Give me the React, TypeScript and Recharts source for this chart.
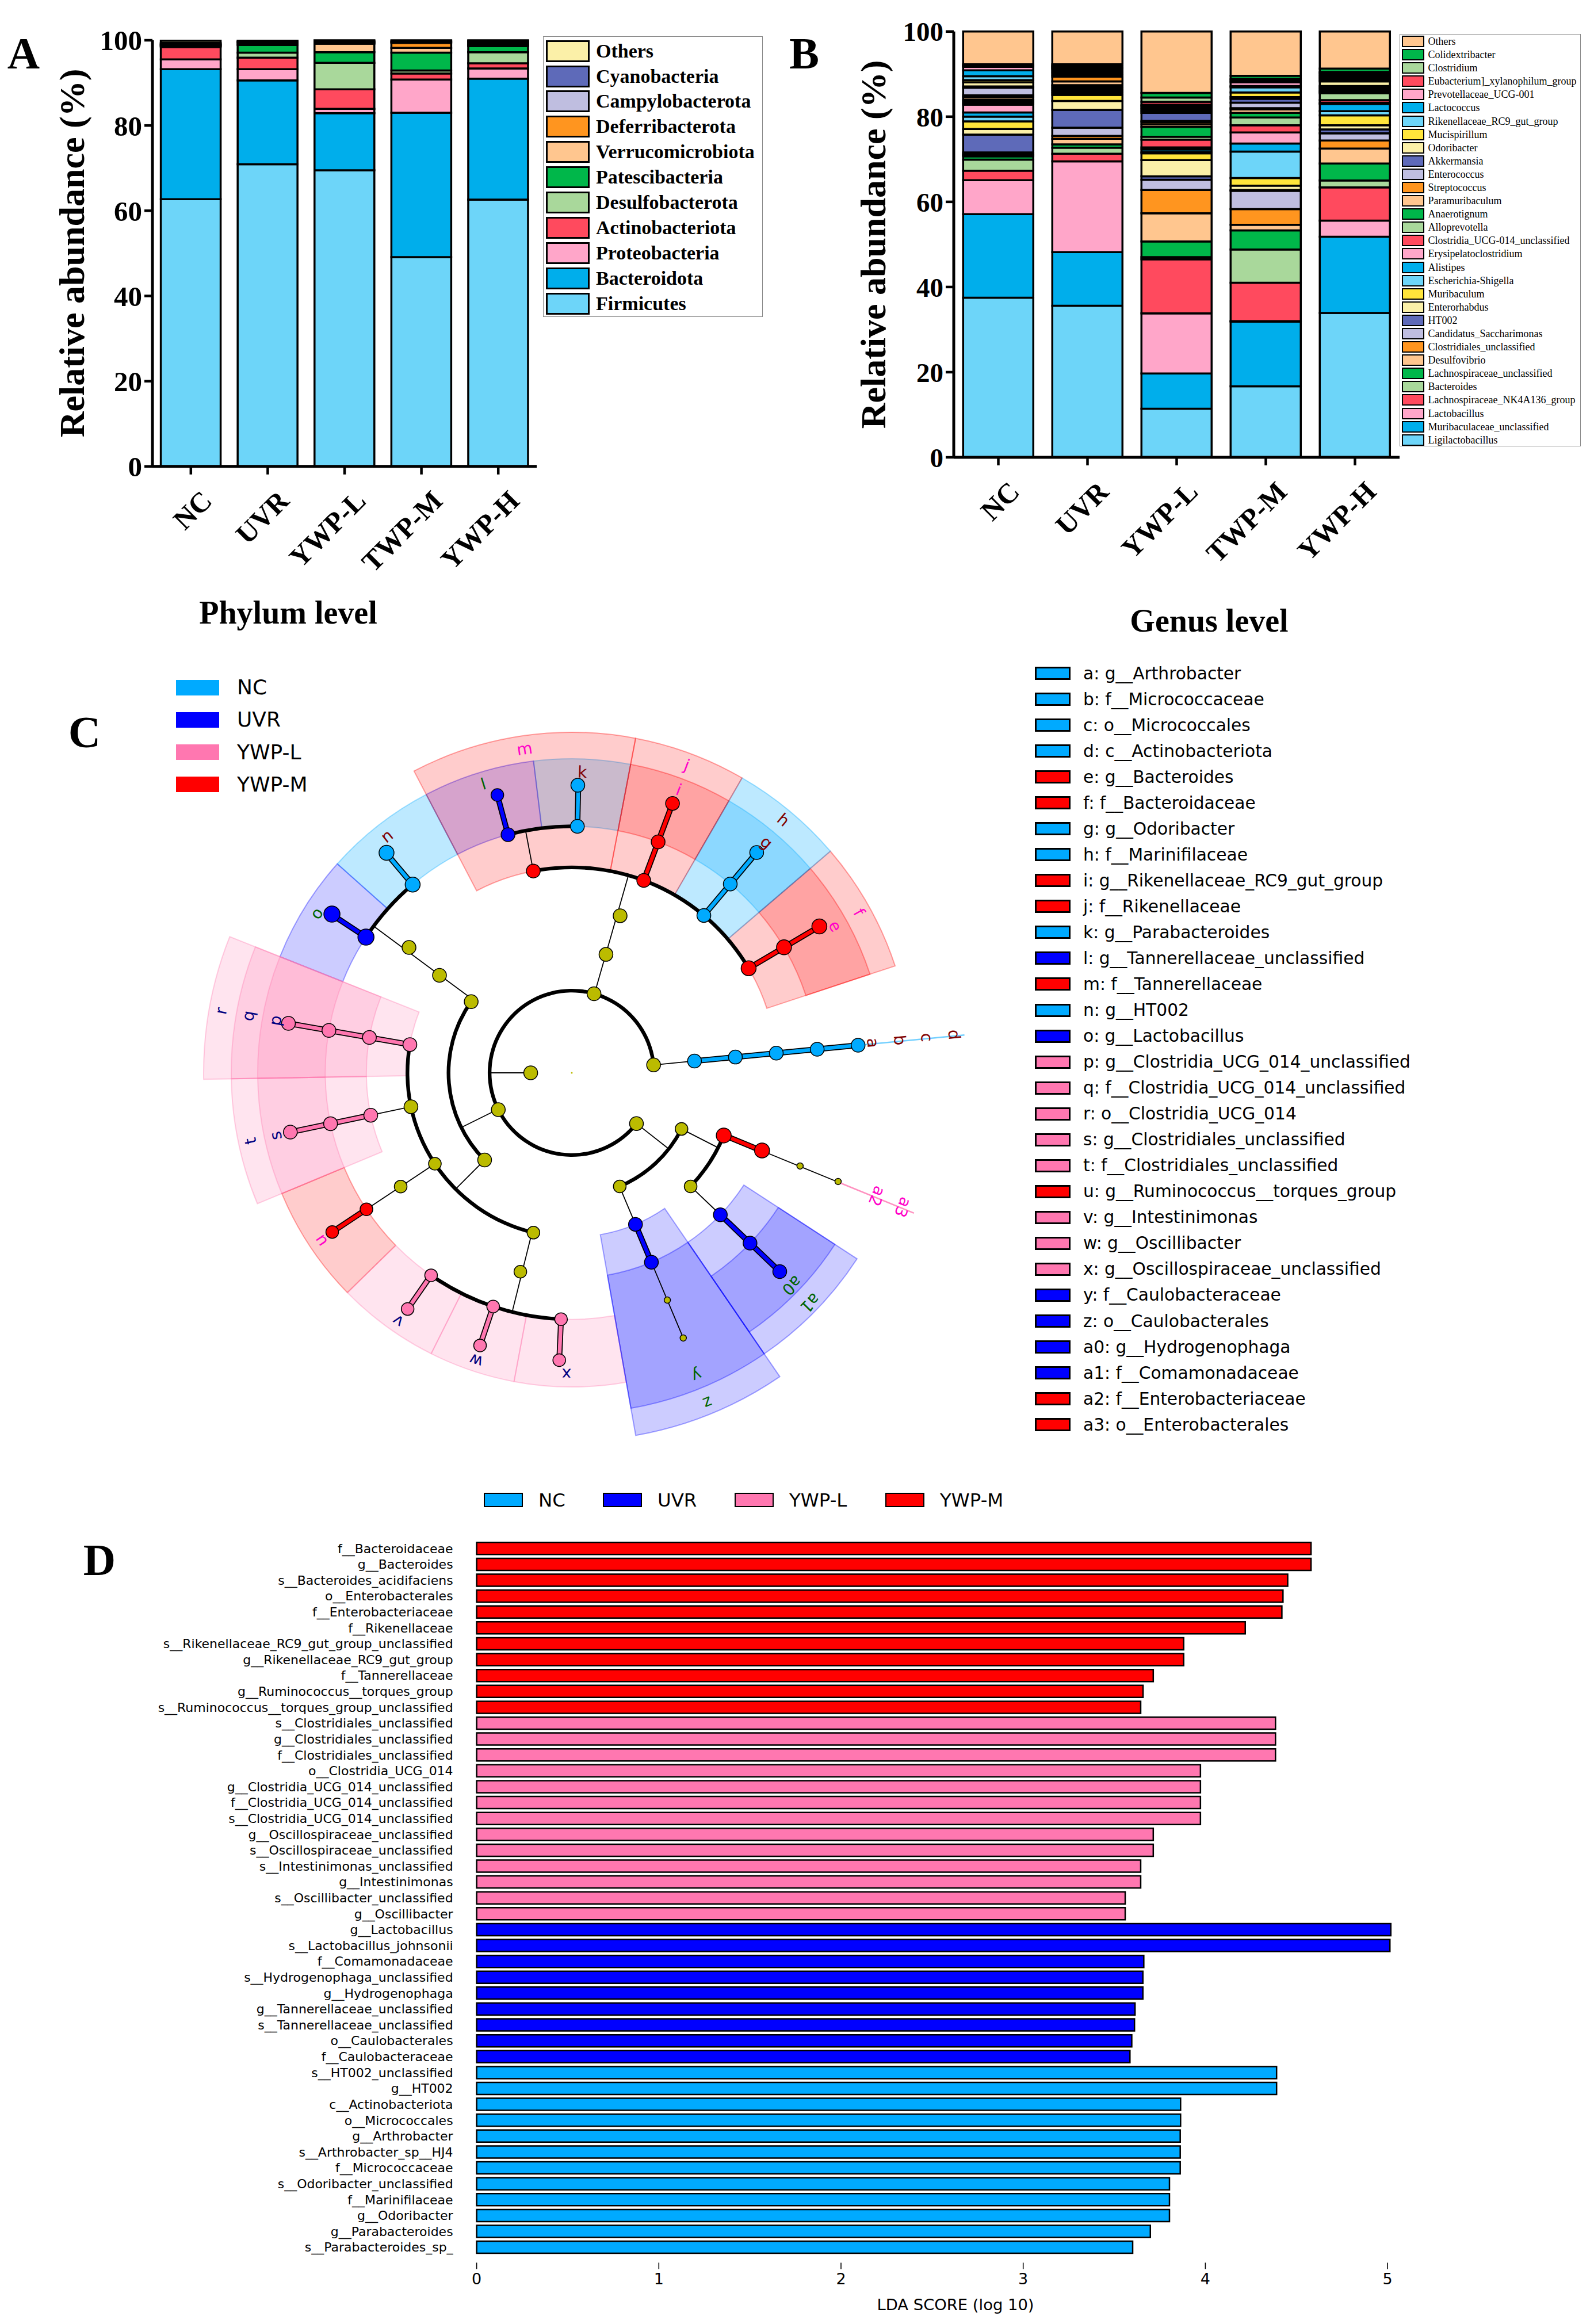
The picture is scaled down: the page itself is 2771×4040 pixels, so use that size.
import React from "react";
import { BarChart, Bar, XAxis, YAxis, PieChart, Pie, ScatterChart, Scatter } from "recharts";

const SERIF = "'Liberation Serif', serif";
const SANS = "'DejaVu Sans', sans-serif";

// panels A and B
const groups = ["NC", "UVR", "YWP-L", "TWP-M", "YWP-H"];
const majorTicks = [0, 20, 40, 60, 80, 100];
const minorTicks = [10, 30, 50, 70, 90];
const bandEdges = [0, 1, 2, 3, 4, 5];
const palette = ["#6DD5F9", "#00AEEB", "#FFA6C9", "#FF4A5E", "#A9D89B", "#00B74A", "#FFC68F", "#FF951F", "#BFBEE0", "#5E6AB9", "#FBF0A8", "#FFE53B"];

const phyla = ["Firmicutes", "Bacteroidota", "Proteobacteria", "Actinobacteriota", "Desulfobacterota", "Patescibacteria", "Verrucomicrobiota", "Deferribacterota", "Campylobacterota", "Cyanobacteria", "Others"];
const phylumNC = [62.7, 30.5, 2.3, 2.9, 0.2, 0.2, 0.1, 0.1, 0.2, 0.2, 0.5];
const phylumUVR = [70.9, 19.7, 2.6, 2.7, 1.2, 1.8, 0.3, 0.3, 0.1, 0.1, 0.2];
const phylumL = [69.5, 13.4, 1.0, 4.6, 6.2, 2.5, 2.0, 0.2, 0.2, 0.2, 0.2];
const phylumM = [49.1, 33.9, 7.8, 1.4, 0.7, 4.2, 1.1, 1.2, 0.2, 0.2, 0.2];
const phylumH = [62.6, 28.4, 2.4, 1.2, 2.6, 1.4, 0.3, 0.3, 0.3, 0.3, 0.2];

const genera = ["Ligilactobacillus", "Muribaculaceae_unclassified", "Lactobacillus", "Lachnospiraceae_NK4A136_group", "Bacteroides", "Lachnospiraceae_unclassified", "Desulfovibrio", "Clostridiales_unclassified", "Candidatus_Saccharimonas", "HT002", "Enterorhabdus", "Muribaculum", "Escherichia-Shigella", "Alistipes", "Erysipelatoclostridium", "Clostridia_UCG-014_unclassified", "Alloprevotella", "Anaerotignum", "Paramuribaculum", "Streptococcus", "Enterococcus", "Akkermansia", "Odoribacter", "Mucispirillum", "Rikenellaceae_RC9_gut_group", "Lactococcus", "Prevotellaceae_UCG-001", "Eubacterium]_xylanophilum_group", "Clostridium", "Colidextribacter", "Others"];
const genusNC = [37.5, 19.6, 8.0, 2.2, 2.6, 0.8, 0.3, 0.3, 0.3, 4.2, 1.3, 1.8, 1.1, 1.0, 1.8, 0.4, 0.4, 0.4, 0.6, 0.4, 1.8, 0.3, 1.0, 0.5, 0.9, 1.4, 0.8, 0.2, 0.2, 0.2, 7.7];
const genusUVR = [35.6, 12.6, 21.3, 1.8, 1.4, 0.8, 1.3, 0.7, 1.9, 4.2, 2.1, 1.4, 0.4, 0.4, 0.4, 0.4, 0.4, 0.3, 0.9, 1.1, 0.4, 0.4, 0.4, 0.3, 0.3, 0.2, 0.2, 0.2, 0.2, 0.3, 7.7];
const genusL = [11.4, 8.3, 14.1, 12.7, 0.5, 3.7, 6.6, 5.5, 2.4, 0.8, 3.8, 1.6, 0.3, 0.6, 0.5, 1.8, 0.7, 2.3, 0.6, 0.5, 0.3, 1.9, 0.4, 0.4, 0.4, 0.4, 0.3, 0.7, 1.0, 1.1, 14.4];
const genusM = [16.7, 15.2, 0.1, 9.0, 7.8, 4.5, 1.3, 3.7, 4.3, 0.2, 1.0, 1.8, 6.2, 1.9, 2.6, 1.7, 1.8, 1.1, 0.8, 0.3, 1.3, 0.9, 0.4, 1.1, 1.2, 0.3, 0.9, 0.4, 0.4, 0.7, 10.4];
const genusH = [33.9, 17.9, 3.8, 7.8, 1.6, 4.0, 3.5, 1.9, 1.7, 0.9, 1.0, 2.3, 1.0, 1.7, 0.3, 0.6, 1.6, 0.3, 0.3, 0.3, 0.4, 0.4, 1.1, 0.4, 0.4, 0.4, 0.4, 0.3, 0.3, 0.8, 8.7];

// panel C, angles in degrees counter-clockwise from 3 o'clock, depth in tree levels
const NC = "#00AAFF";
const UVR = "#0000FF";
const YWPL = "#FF77B0";
const YWPM = "#FF0000";
const OLIVE = "#BBBB00";
const groupColors: Record<string, string> = { NC, UVR, L: YWPL, M: YWPM, O: OLIVE };
const labelColors: Record<string, string> = { NC: "#800000", UVR: "#006400", L: "#000080", M: "#FF00C8" };

const sectors = [
  ["e", 18.3, 40.6, "genus", "M"], ["g", 40.6, 60, "genus", "NC"], ["i", 60, 79.2, "genus", "M"], ["k", 79.2, 97, "genus", "NC"], ["l", 97, 117.6, "genus", "UVR"],
  ["n", 117.6, 138.3, "genus", "NC"], ["o", 138.3, 158.3, "genus", "UVR"], ["p", 158.3, 181, "genus", "L"], ["s", 181, 202.6, "genus", "L"],
  ["u", 202.6, 224.4, "genus", "M"], ["v", 224.4, 243.4, "genus", "L"], ["w", 243.4, 259.4, "genus", "L"], ["x", 259.4, 280, "genus", "L"], ["a0", 304.4, 326.9, "genus", "UVR"],
  ["f", 18.3, 40.6, "family", "M"], ["h", 40.6, 60, "family", "NC"], ["j", 60, 79.2, "family", "M"], ["m", 79.2, 117.6, "family", "M"],
  ["q", 158.3, 181, "family", "L"], ["t", 181, 202.6, "family", "L"], ["y", 280, 304.4, "family", "UVR"], ["a1", 304.4, 326.9, "family", "UVR"],
  ["r", 158.3, 181, "order", "L"], ["z", 280, 304.4, "order", "UVR"],
] as const;

const arcs = [
  [2, 5.4, 321.9], [3, 144.7, 225], [4, 170.1, 256.5], [5, 30.6, 100.8], [6, 88.7, 105], [6, 130.2, 146.6], [6, 235.2, 267.5], [3, 292.8, 332.9], [4, 316.3, 337.7],
] as const;

const branches = [
  [5.5, 2, 3, "thin"], [5.5, 3, 7, "NC"], [5.5, 7, 9.6, "tailNC"],
  [30.6, 5, 7, "M"], [50, 5, 7, "NC"], [69.5, 5, 7, "M"], [74, 2, 5, "thin"], [100.8, 5, 6, "thin"],
  [88.7, 6, 7, "NC"], [105, 6, 7, "UVR"], [130.2, 6, 7, "NC"], [146.6, 6, 7, "UVR"], [143.5, 3, 6, "thin"],
  [170.1, 4, 7, "L"], [191.9, 4, 5, "thin"], [191.9, 5, 7, "L"], [213.6, 4, 6, "thin"], [213.6, 6, 7, "M"],
  [225, 3, 4, "thin"], [206.3, 2, 3, "thin"], [180, 1, 2, "thin"], [256, 4, 6, "thin"],
  [235.2, 6, 7, "L"], [251.4, 6, 7, "L"], [267.5, 6, 7, "L"],
  [321.9, 2, 3, "thin"], [332.9, 3, 4, "thin"], [337.7, 4, 5, "M"], [337.7, 5, 7, "thin"], [337.7, 7, 9, "tailM"],
  [316.3, 4, 5, "thin"], [316.3, 5, 7, "UVR"], [292.8, 3, 4, "thin"], [292.8, 4, 5, "UVR"], [292.8, 5, 7, "thin"],
] as const;

const nodes = [
  [0, 0, "O", 1.5], [180, 1, "O", 12], [5.5, 2, "O", 12], [74.3, 2, "O", 12], [206.6, 2, "O", 12], [321.9, 2, "O", 12],
  [5.5, 3, "NC", 12], [5.5, 4, "NC", 12], [5.5, 5, "NC", 12], [5.5, 6, "NC", 12], [5.5, 7, "NC", 12],
  [30.6, 5, "M", 13], [30.6, 6, "M", 13], [30.6, 7, "M", 13],
  [50, 5, "NC", 12], [50, 6, "NC", 12], [50, 7, "NC", 12],
  [69.5, 5, "M", 12], [69.5, 6, "M", 12], [69.5, 7, "M", 12],
  [73.9, 3, "O", 12], [72.9, 4, "O", 12], [100.8, 5, "M", 12],
  [88.7, 6, "NC", 12], [88.8, 7, "NC", 12], [105, 6, "UVR", 12], [105, 7, "UVR", 11],
  [130.2, 6, "NC", 13], [130.1, 7, "NC", 13], [146.6, 6, "UVR", 14], [146.5, 7, "UVR", 14],
  [144.7, 3, "O", 12], [143.6, 4, "O", 12], [142.4, 5, "O", 12], [225, 3, "O", 12],
  [170.1, 4, "L", 12], [170.1, 5, "L", 12], [170.1, 6, "L", 12], [170.1, 7, "L", 12],
  [191.9, 4, "O", 12], [191.9, 5, "L", 12], [191.9, 6, "L", 12], [191.9, 7, "L", 12],
  [213.6, 4, "O", 11], [213.6, 5, "O", 11], [213.6, 6, "M", 11], [213.6, 7, "M", 11],
  [256.5, 4, "O", 11], [255.5, 5, "O", 11],
  [235.2, 6, "L", 11], [235.2, 7, "L", 11], [251.4, 6, "L", 11], [251.4, 7, "L", 11], [267.5, 6, "L", 11], [267.5, 7, "L", 11],
  [292.9, 3, "O", 11], [292.8, 4, "UVR", 12], [292.8, 5, "UVR", 12], [292.8, 6, "O", 5.5], [292.8, 7, "O", 5.5],
  [332.9, 3, "O", 11], [316.3, 4, "O", 11], [316.3, 5, "UVR", 12], [316.3, 6, "UVR", 12], [316.3, 7, "UVR", 12],
  [337.6, 4, "M", 13], [337.8, 5, "M", 13], [337.8, 6, "O", 5.5], [337.8, 7, "O", 5.5],
] as const;

const cladeLabels = [
  ["a", 5.7, 526, "NC"], ["b", 5.7, 573, "NC"], ["c", 5.7, 620, "NC"], ["d", 5.7, 668, "NC"],
  ["e", 29.1, 524, "M"], ["f", 29.2, 572, "M"], ["g", 49.8, 524, "NC"], ["h", 50.1, 573, "NC"],
  ["i", 69.3, 526, "M"], ["j", 69.5, 571, "M"], ["k", 88, 523, "NC"], ["l", 107, 525, "UVR"], ["m", 98.3, 569, "M"],
  ["n", 128, 522, "NC"], ["o", 148, 523, "UVR"], ["p", 170, 523, "L"], ["q", 170, 571, "L"], ["r", 170, 619, "L"],
  ["s", 192, 526, "L"], ["t", 192, 571, "L"], ["u", 213.8, 525, "M"], ["v", 235, 527, "L"], ["w", 251.6, 527, "L"], ["x", 269, 524, "L"],
  ["y", 292.4, 569, "UVR"], ["z", 292.4, 620, "UVR"], ["a0", 316, 532, "UVR"], ["a1", 316, 576, "UVR"], ["a2", 338, 572, "M"], ["a3", 337.9, 621, "M"],
] as const;

const cladeGroups = [["NC", NC], ["UVR", UVR], ["YWP-L", YWPL], ["YWP-M", YWPM]] as const;
const cladeKey = [
  ["a: g__Arthrobacter", NC], ["b: f__Micrococcaceae", NC], ["c: o__Micrococcales", NC], ["d: c__Actinobacteriota", NC],
  ["e: g__Bacteroides", YWPM], ["f: f__Bacteroidaceae", YWPM], ["g: g__Odoribacter", NC], ["h: f__Marinifilaceae", NC],
  ["i: g__Rikenellaceae_RC9_gut_group", YWPM], ["j: f__Rikenellaceae", YWPM], ["k: g__Parabacteroides", NC], ["l: g__Tannerellaceae_unclassified", UVR],
  ["m: f__Tannerellaceae", YWPM], ["n: g__HT002", NC], ["o: g__Lactobacillus", UVR], ["p: g__Clostridia_UCG_014_unclassified", YWPL],
  ["q: f__Clostridia_UCG_014_unclassified", YWPL], ["r: o__Clostridia_UCG_014", YWPL], ["s: g__Clostridiales_unclassified", YWPL], ["t: f__Clostridiales_unclassified", YWPL],
  ["u: g__Ruminococcus__torques_group", YWPM], ["v: g__Intestinimonas", YWPL], ["w: g__Oscillibacter", YWPL], ["x: g__Oscillospiraceae_unclassified", YWPL],
  ["y: f__Caulobacteraceae", UVR], ["z: o__Caulobacterales", UVR], ["a0: g__Hydrogenophaga", UVR], ["a1: f__Comamonadaceae", UVR],
  ["a2: f__Enterobacteriaceae", YWPM], ["a3: o__Enterobacterales", YWPM],
] as const;

// panel D
const ldaTicks = [0, 1, 2, 3, 4, 5];
const ldaM = ["f__Bacteroidaceae", "g__Bacteroides", "s__Bacteroides_acidifaciens", "o__Enterobacterales", "f__Enterobacteriaceae", "f__Rikenellaceae", "s__Rikenellaceae_RC9_gut_group_unclassified", "g__Rikenellaceae_RC9_gut_group", "f__Tannerellaceae", "g__Ruminococcus__torques_group", "s__Ruminococcus__torques_group_unclassified"];
const scoreM = [4.58, 4.58, 4.452, 4.426, 4.42, 4.219, 3.881, 3.881, 3.714, 3.658, 3.645];
const ldaL = ["s__Clostridiales_unclassified", "g__Clostridiales_unclassified", "f__Clostridiales_unclassified", "o__Clostridia_UCG_014", "g__Clostridia_UCG_014_unclassified", "f__Clostridia_UCG_014_unclassified", "s__Clostridia_UCG_014_unclassified", "g__Oscillospiraceae_unclassified", "s__Oscillospiraceae_unclassified", "s__Intestinimonas_unclassified", "g__Intestinimonas", "s__Oscillibacter_unclassified", "g__Oscillibacter"];
const scoreL = [4.385, 4.385, 4.385, 3.973, 3.973, 3.973, 3.973, 3.714, 3.714, 3.645, 3.645, 3.56, 3.56];
const ldaU = ["g__Lactobacillus", "s__Lactobacillus_johnsonii", "f__Comamonadaceae", "s__Hydrogenophaga_unclassified", "g__Hydrogenophaga", "g__Tannerellaceae_unclassified", "s__Tannerellaceae_unclassified", "o__Caulobacterales", "f__Caulobacteraceae"];
const scoreU = [5.018, 5.013, 3.662, 3.657, 3.657, 3.614, 3.611, 3.596, 3.586];
const ldaN = ["s__HT002_unclassified", "g__HT002", "c__Actinobacteriota", "o__Micrococcales", "g__Arthrobacter", "s__Arthrobacter_sp__HJ4", "f__Micrococcaceae", "s__Odoribacter_unclassified", "f__Marinifilaceae", "g__Odoribacter", "g__Parabacteroides", "s__Parabacteroides_sp_"];
const scoreN = [4.391, 4.391, 3.864, 3.864, 3.862, 3.862, 3.862, 3.803, 3.803, 3.803, 3.698, 3.601];

const ldaRows = [
  ...ldaM.map((name, i) => ({ name, M: scoreM[i] })),
  ...ldaL.map((name, i) => ({ name, L: scoreL[i] })),
  ...ldaU.map((name, i) => ({ name, U: scoreU[i] })),
  ...ldaN.map((name, i) => ({ name, N: scoreN[i] })),
];

const rowsFrom = (names: readonly string[], columns: number[][]) =>
  groups.map((group, g) => {
    const row: Record<string, string | number> = { group };
    names.forEach((n, i) => { row[n] = columns[g][i]; });
    return row;
  });

const LEVEL = 71.43;
const RING = {
  genus: [6 * LEVEL, 546],
  family: [5 * LEVEL, 592],
  order: [4 * LEVEL, 640],
};
const polar = (angle: number, r: number) => ({
  x: r * Math.cos((angle * Math.PI) / 180),
  y: r * Math.sin((angle * Math.PI) / 180),
});

function PageText({ x, y, size, children, family = SERIF, weight = 700, rotate = 0 }: any) {
  return (
    <div style={{
      position: "absolute", left: x, top: y, fontFamily: family, fontSize: size, fontWeight: weight, whiteSpace: "nowrap", lineHeight: 1,
      transform: `translate(-50%, -50%) rotate(${rotate}deg)`,
    }}>{children}</div>
  );
}

function KeyRow({ x, y, w, h, gap, color, border, label, family, size, weight = 400 }: any) {
  return (
    <>
      <div style={{ position: "absolute", left: x, top: y - h / 2, width: w, height: h, boxSizing: "border-box", background: color, border: `${border}px solid #000` }} />
      <div style={{ position: "absolute", left: x + w + gap, top: y, transform: "translateY(-50%)", fontFamily: family, fontSize: size, fontWeight: weight, whiteSpace: "nowrap", lineHeight: 1 }}>{label}</div>
    </>
  );
}

function SlantTick({ x, y, payload, size }: any) {
  return (
    <text x={x} y={y} transform={`rotate(-45 ${x} ${y})`} dx={-5} dy={61} textAnchor="end" fontFamily={SERIF} fontWeight={700} fontSize={size} fill="#000">
      {payload.value}
    </text>
  );
}

function StackPanel({ left, width, height, margin, names, columns, tickSize, catSize, gap }: any) {
  const rows = rowsFrom(names, columns);
  return (
    <div style={{ position: "absolute", left, top: 0 }}>
      <BarChart width={width} height={height} data={rows} margin={margin} barCategoryGap={gap}>
        <XAxis dataKey="group" height={1} interval={0} tickLine={{ stroke: "#000", strokeWidth: 4.5 }} axisLine={{ stroke: "#000", strokeWidth: 5 }} tickSize={14}
          tick={(p: any) => <SlantTick {...p} size={catSize} />} />
        <XAxis xAxisId="minor" type="number" orientation="bottom" height={1} domain={[0, 5]} ticks={bandEdges} tick={false} axisLine={false} tickSize={7} tickLine={{ stroke: "#000", strokeWidth: 4 }} />
        <YAxis width={1} domain={[0, 100]} ticks={majorTicks} interval={0} tickSize={14} tickMargin={4} axisLine={{ stroke: "#000", strokeWidth: 5 }} tickLine={{ stroke: "#000", strokeWidth: 4.5 }}
          tick={{ fontFamily: SERIF, fontWeight: 700, fontSize: tickSize, fill: "#000" }} />
        <YAxis yAxisId="minor" width={1} domain={[0, 100]} ticks={minorTicks} interval={0} tick={false} axisLine={false} tickSize={7} tickLine={{ stroke: "#000", strokeWidth: 4 }} />
        {names.map((n: string, i: number) => (
          <Bar key={n} dataKey={n} stackId="a" fill={palette[i % 12]} stroke="#000" strokeWidth={3.5} isAnimationActive={false} />
        ))}
      </BarChart>
    </div>
  );
}

const branchStyle = (kind: string) => {
  if (kind === "thin") return [[1.8, "#000", 1]];
  if (kind === "tailNC") return [[2.5, NC, 0.55]];
  if (kind === "tailM") return [[2.5, YWPL, 0.8]];
  return [[10, "#000", 1], [6.5, groupColors[kind], 1]];
};

function NodeDot({ cx, cy, payload }: any) {
  return <circle cx={cx} cy={cy} r={payload.size} fill={groupColors[payload.group]} stroke={payload.size > 2 ? "#000" : "none"} strokeWidth={1.5} />;
}

function CladeLabel({ cx, cy, payload }: any) {
  return (
    <text x={cx} y={cy} transform={`rotate(${90 - payload.angle} ${cx} ${cy})`} textAnchor="middle" dominantBaseline="central" fontFamily={SANS} fontSize={28} fill={labelColors[payload.group]}>
      {payload.text}
    </text>
  );
}

function Cladogram() {
  const size = 1400;
  const half = size / 2;
  const center = { left: 994.3 - half, top: 1864.8 - half };
  return (
    <>
      <div style={{ position: "absolute", ...center }}>
        <PieChart width={size} height={size} margin={{ top: 0, right: 0, bottom: 0, left: 0 }}>
          {sectors.map(([label, start, end, ring, group]) => (
            <Pie key={label} data={[{ label, value: 1 }]} dataKey="value" cx={half} cy={half} startAngle={start} endAngle={end}
              innerRadius={RING[ring][0]} outerRadius={RING[ring][1]} fill={groupColors[group]} fillOpacity={group === "NC" ? 0.26 : 0.2}
              stroke={groupColors[group]} strokeOpacity={0.35} strokeWidth={2} isAnimationActive={false} labelLine={false} />
          ))}
          {arcs.map(([level, start, end], i) => (
            <Pie key={i} data={[{ value: 1 }]} dataKey="value" cx={half} cy={half} startAngle={start} endAngle={end}
              innerRadius={level * LEVEL - 3.2} outerRadius={level * LEVEL + 3.2} fill="#000" stroke="none" isAnimationActive={false} labelLine={false} />
          ))}
        </PieChart>
      </div>
      <div style={{ position: "absolute", ...center }}>
        <ScatterChart width={size} height={size} margin={{ top: 0, right: 0, bottom: 0, left: 0 }}>
          <XAxis type="number" dataKey="x" domain={[-half, half]} hide />
          <YAxis type="number" dataKey="y" domain={[-half, half]} hide />
          {branches.flatMap(([angle, from, to, kind], i) =>
            branchStyle(kind).map(([w, color, alpha], j) => (
              <Scatter key={`${i}-${j}`} data={[polar(angle, from * LEVEL), polar(angle, to * LEVEL)]} isAnimationActive={false} shape={() => null}
                line={{ stroke: color as string, strokeWidth: w as number, strokeOpacity: alpha as number }} />
            )),
          )}
          <Scatter data={nodes.map(([angle, level, group, nodeSize]) => ({ ...polar(angle, level * LEVEL), group, size: nodeSize }))} shape={NodeDot} isAnimationActive={false} />
          <Scatter data={cladeLabels.map(([text, angle, r, group]) => ({ ...polar(angle, r), text, angle, group }))} shape={CladeLabel} isAnimationActive={false} />
        </ScatterChart>
      </div>
    </>
  );
}

function LdaPanel() {
  const unit = 316.7;
  const left = 828.6;
  const top = 2677.6;
  const axisY = 3933;
  const height = 4040 - top;
  const max = 5.2;
  return (
    <div style={{ position: "absolute", left: 0, top }}>
      <BarChart layout="vertical" width={left + unit * max} height={height} data={ldaRows} margin={{ top: 0, right: 0, left: left - 1, bottom: height - (axisY - top) - 1 }} barCategoryGap="12%">
        <XAxis type="number" height={1} domain={[0, max]} ticks={ldaTicks} interval={0} axisLine={false} tickSize={11} tickMargin={7} tickLine={{ stroke: "#000", strokeWidth: 1.6 }}
          tick={{ fontFamily: SANS, fontSize: 27, fill: "#000" }} />
        <YAxis type="category" dataKey="name" width={1} interval={0} axisLine={false} tickLine={false} tickSize={0} tickMargin={41} padding={{ top: 0, bottom: 13 }}
          tick={{ fontFamily: SANS, fontSize: 22, fill: "#000" }} />
        <Bar dataKey="M" stackId="a" fill={YWPM} stroke="#000" strokeWidth={2.5} isAnimationActive={false} />
        <Bar dataKey="L" stackId="a" fill={YWPL} stroke="#000" strokeWidth={2.5} isAnimationActive={false} />
        <Bar dataKey="U" stackId="a" fill={UVR} stroke="#000" strokeWidth={2.5} isAnimationActive={false} />
        <Bar dataKey="N" stackId="a" fill={NC} stroke="#000" strokeWidth={2.5} isAnimationActive={false} />
      </BarChart>
    </div>
  );
}

export default function App() {
  return (
    <div style={{ position: "absolute", left: 0, top: 0, width: 2771, height: 4040, background: "#fff", overflow: "hidden" }}>
      <StackPanel left={0} width={940} height={1040} margin={{ top: 70, right: 7, left: 263, bottom: 227.2 }} names={phyla}
        columns={[phylumNC, phylumUVR, phylumL, phylumM, phylumH]} tickSize={49} catSize={49} gap="10.9%" />
      <StackPanel left={1400} width={1040} height={1040} margin={{ top: 54.8, right: 7, left: 256, bottom: 243 }} names={genera}
        columns={[genusNC, genusUVR, genusL, genusM, genusH]} tickSize={47} catSize={49} gap="10.5%" />

      <div style={{ position: "absolute", left: 944, top: 63, width: 382, height: 488, boxSizing: "border-box", border: "1.5px solid #888" }} />
      {[...phyla].reverse().map((n, i) => (
        <KeyRow key={n} x={949} y={88.6 + i * 43.9} w={76} h={38} gap={11} color={palette[10 - i]} border={3.5} label={n} family={SERIF} size={34} weight={700} />
      ))}
      <div style={{ position: "absolute", left: 2433, top: 59, width: 315, height: 717, boxSizing: "border-box", border: "1.5px solid #888" }} />
      {[...genera].reverse().map((n, i) => (
        <KeyRow key={n} x={2437} y={72 + i * 23.09} w={39} h={20} gap={6.5} color={palette[(30 - i) % 12]} border={2.5} label={n} family={SERIF} size={18} />
      ))}

      <PageText x={41} y={93} size={78}>A</PageText>
      <PageText x={1398} y={93} size={78}>B</PageText>
      <PageText x={147} y={1273} size={78}>C</PageText>
      <PageText x={173} y={2712} size={78}>D</PageText>
      <PageText x={125} y={440} size={62} rotate={-90}>Relative abundance (%)</PageText>
      <PageText x={1518} y={425} size={62} rotate={-90}>Relative abundance (%)</PageText>
      <PageText x={501} y={1065} size={56}>Phylum level</PageText>
      <PageText x={2102} y={1079} size={56}>Genus level</PageText>

      <Cladogram />
      {cladeGroups.map(([label, color], i) => (
        <KeyRow key={label} x={306} y={1195 + i * 56.3} w={75} h={27} gap={31} color={color} border={0} label={label} family={SANS} size={36} />
      ))}
      {cladeKey.map(([label, color], i) => (
        <KeyRow key={label} x={1799} y={1170.5 + i * 45.04} w={62} h={23} gap={22} color={color} border={3} label={label} family={SANS} size={29.7} />
      ))}

      <LdaPanel />
      {cladeGroups.map(([label, color], i) => (
        <KeyRow key={label} x={[841, 1048, 1277, 1539][i]} y={2607.5} w={68} h={25} gap={27} color={color} border={2.5} label={label} family={SANS} size={32.4} />
      ))}
      <PageText x={1661} y={4007} size={27.4} family={SANS} weight={400}>LDA SCORE (log 10)</PageText>
    </div>
  );
}
